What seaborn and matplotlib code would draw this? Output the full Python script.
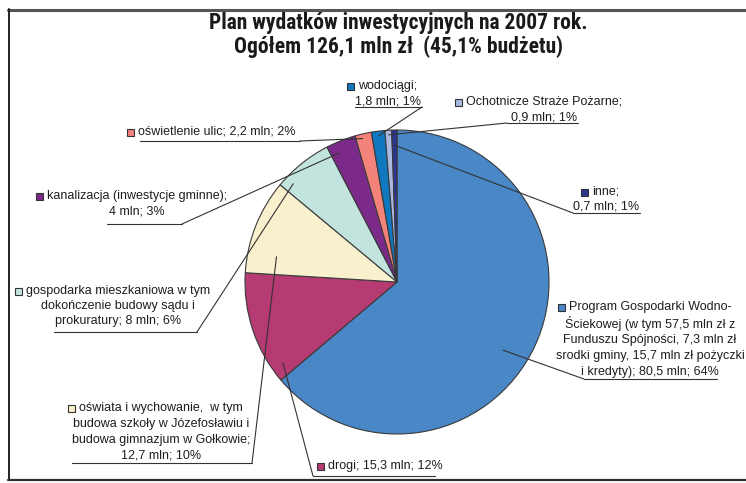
import matplotlib
matplotlib.use('Agg')
import numpy as np
import matplotlib.pyplot as plt
import seaborn as sns
from matplotlib.patches import Rectangle
from matplotlib import font_manager

# ── Data ─────────────────────────────────────────────────────
categories = ['Program Gospodarki Wodno-Ściekowej', 'drogi', 'oświata i wychowanie',
              'gospodarka mieszkaniowa', 'kanalizacja', 'oświetlenie ulic',
              'wodociągi', 'Ochotnicze Straże Pożarne', 'inne']
values_mln = [80.5, 15.3, 12.7, 8.0, 4.0, 2.2, 1.8, 0.9, 0.7]
label_texts = [
    'Program Gospodarki Wodno-\nŚciekowej (w tym 57,5 mln zł z\nFunduszu Spójności, 7,3 mln zł\n'
    'srodki gminy, 15,7 mln zł pożyczki\ni kredyty); 80,5 mln; 64%',
    'drogi; 15,3 mln; 12%',
    'oświata i wychowanie,  w tym\nbudowa szkoły w Józefosławiu i\nbudowa gimnazjum w Gołkowie;\n12,7 mln; 10%',
    'gospodarka mieszkaniowa w tym\ndokończenie budowy sądu i\nprokuratury; 8 mln; 6%',
    'kanalizacja (inwestycje gminne);\n4 mln; 3%',
    'oświetlenie ulic; 2,2 mln; 2%',
    'wodociągi;\n1,8 mln; 1%',
    'Ochotnicze Straże Pożarne;\n0,9 mln; 1%',
    'inne;\n0,7 mln; 1%',
]
title_lines = ['Plan wydatków inwestycyjnych na 2007 rok.',
               'Ogółem 126,1 mln zł  (45,1% budżetu)']

colors = ['#4a87c7', '#b53b72', '#f9f1cd', '#c3e3df', '#7b2a89',
          '#f2827a', '#0f78bf', '#aab9e2', '#2b3591']

# ── Layout (pixel coords, y down) ────────────────────────────
# text centre x, first line y, line step, underline x0, x1, y, leader side, anchor (t in slice, r frac)
layout = [
    (650, 307, 16.3, 584, 717, 379, 'left', 0.534, 0.83),
    (385, 466, 15.5, 313, 435, 476, 'left', 0.11, 0.92),
    (161, 408, 16.0, 72, 252, 463, 'right', 0.23, 0.81),
    (118, 291, 15.2, 54, 197, 332, 'right', 0.16, 0.94),
    (137, 196, 15.0, 107, 182, 224, 'right', 0.28, 0.93),
    (217, 132, 15.0, 140, 300, 141, 'right', 0.41, 0.97),
    (388, 86, 16.0, 355, 422, 107, 'right', 0.5, 0.97),
    (544, 102, 15.0, 507, 578, 123, 'left', 0.5, 0.97),
    (606, 192, 14.5, 573, 640, 213, 'left', 0.5, 0.90),
]
pie_center = (397, 282)
pie_radius = 152

sns.set_theme(style='white')
names = {f.name for f in font_manager.fontManager.ttflist}
plt.rcParams['font.family'] = ['Liberation Sans', 'DejaVu Sans']

# condensed bold face for the title if one is installed
title_family, title_size = ['Liberation Sans', 'DejaVu Sans'], 12
for cand in ['Liberation Sans Narrow', 'DejaVu Sans Condensed', 'Roboto Condensed']:
    if cand in names:
        title_family, title_size = [cand, 'DejaVu Sans'], 15.5
        break

W, H = 746, 483
fig = plt.figure(figsize=(W / 100, H / 100), dpi=100)
ax = fig.add_axes([0, 0, 1, 1])
ax.set_facecolor('white')

wedges, _ = ax.pie(values_mln, colors=colors, startangle=270, counterclock=True,
                   center=pie_center, radius=pie_radius,
                   wedgeprops=dict(edgecolor='#3a3a3a', linewidth=0.8))
ax.set_xlim(0, W)
ax.set_ylim(H, 0)
ax.set_aspect('equal')
ax.axis('off')

# frame
ax.plot([8, W], [9.5, 9.5], color='#555555', lw=2.2, clip_on=False)
ax.plot([8.5, 8.5], [9, 480], color='#222222', lw=1.4, clip_on=False)
ax.plot([8, W], [480, 480], color='#333333', lw=1.6, clip_on=False)

# title
for i, line in enumerate(title_lines):
    ax.text(398, 23 + i * 24, line, ha='center', va='center', fontsize=title_size,
            fontweight='bold', family=title_family, color='#1a1a1a')

txt_color = '#1e1e1e'
first_lines = []
for wedge, text, col, lay in zip(wedges, label_texts, colors, layout):
    cx, y0, step, ux0, ux1, uy, side, t, rf = lay
    lines = text.split('\n')
    for i, line in enumerate(lines):
        tt = ax.text(cx, y0 + i * step, line, ha='center', va='center',
                     fontsize=9, color=txt_color)
        if i == 0:
            first_lines.append((tt, col, y0))
    ax.plot([ux0, ux1], [uy, uy], color='#333333', lw=0.8)
    ang = np.deg2rad(wedge.theta1 + t * (wedge.theta2 - wedge.theta1))
    axp = pie_center[0] + rf * pie_radius * np.cos(ang)
    ayp = pie_center[1] + rf * pie_radius * np.sin(ang)
    sx = ux0 if side == 'left' else ux1
    ax.plot([sx, axp], [uy, ayp], color='#333333', lw=0.8)

# legend squares in front of the first line of each label
fig.canvas.draw()
renderer = fig.canvas.get_renderer()
inv = ax.transData.inverted()
for tt, col, y0 in first_lines:
    bb = tt.get_window_extent(renderer)
    x_left = inv.transform((bb.x0, bb.y0))[0]
    size = 7
    ax.add_patch(Rectangle((x_left - 4 - size, y0 - size / 2), size, size,
                           facecolor=col, edgecolor='#333333', lw=0.8))

plt.savefig('out.png', dpi=100)
plt.close()
